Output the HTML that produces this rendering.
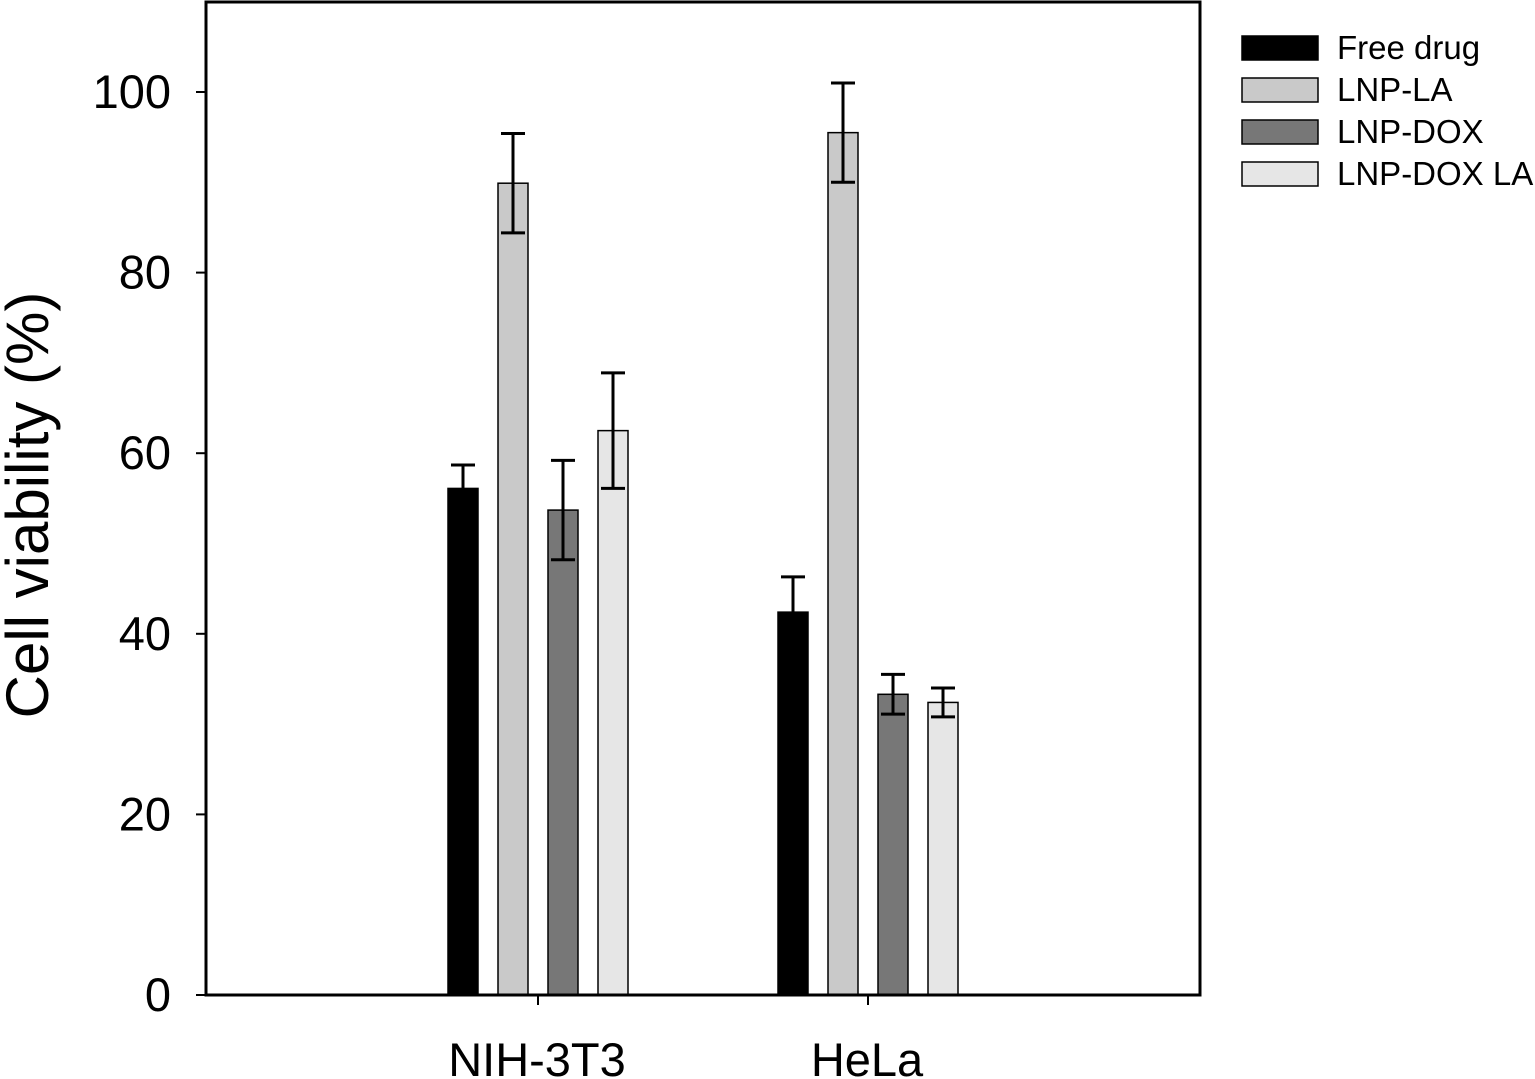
<!DOCTYPE html>
<html><head><meta charset="utf-8"><style>
html,body{margin:0;padding:0;background:#fff;}
svg{display:block;font-family:"Liberation Sans",Arial,sans-serif;}
</style></head><body>
<svg id="chart" width="1535" height="1079" viewBox="0 0 1535 1079">
<g id="plot"></g>
</svg>
<script>
const categories = ["NIH-3T3", "HeLa"];
const seriesNames = ["Free drug", "LNP-LA", "LNP-DOX", "LNP-DOX LA"];
const freeDrug = [56.1, 42.4];
const lnpLA = [89.9, 95.5];
const lnpDOX = [53.7, 33.3];
const lnpDOXLA = [62.5, 32.4];
const errFree = [2.6, 3.9];
const errLA = [5.5, 5.5];
const errDOX = [5.5, 2.2];
const errDOXLA = [6.4, 1.6];
const yTicks = [0, 20, 40, 60, 80, 100];

const series = [freeDrug, lnpLA, lnpDOX, lnpDOXLA];
const errs = [errFree, errLA, errDOX, errDOXLA];
const colors = ["#000000", "#c9c9c9", "#777777", "#e6e6e6"];
const upOnly = [true, false, false, false];

const L = 206, R = 1200, T = 2, B = 995;
const y0 = 995, yPer = 9.03;
function y(v){ return y0 - v * yPer; }
const catCenters = [538, 868];
function xCat(i){ return catCenters[0] + i * (catCenters[1] - catCenters[0]); }
const barW = 30, step = 50;
function xBar(ci, si){ return xCat(ci) + (si - 1.5) * step - barW / 2; }

const NS = "http://www.w3.org/2000/svg";
const g = document.getElementById('plot');
function mk(tag, attrs, parent){
  const e = document.createElementNS(NS, tag);
  for (const k in attrs) e.setAttribute(k, attrs[k]);
  (parent || g).appendChild(e);
  return e;
}

series.forEach((vals, si) => {
  vals.forEach((v, ci) => {
    const x = xBar(ci, si);
    const r = mk('rect', {x: x, y: y(v), width: barW, height: y(0) - y(v), fill: colors[si], stroke: '#000', 'stroke-width': 1.5});
    
    
    const e = errs[si][ci];
    const cx = x + barW / 2;
    const top = y(v + e), bot = upOnly[si] ? y(v) : y(v - e);
    const eg = mk('g', {stroke: '#000', 'stroke-width': 3});
    
    
    mk('line', {x1: cx, x2: cx, y1: top, y2: bot}, eg);
    mk('line', {x1: cx - 12, x2: cx + 12, y1: top, y2: top}, eg);
    if (!upOnly[si]) mk('line', {x1: cx - 12, x2: cx + 12, y1: bot, y2: bot}, eg);
  });
});

const fr = mk('rect', {x: L, y: T, width: R - L, height: B - T, fill: 'none', stroke: '#000', 'stroke-width': 3});



yTicks.forEach(t => {
  mk('line', {x1: L - 10, x2: L, y1: y(t), y2: y(t), stroke: '#000', 'stroke-width': 2});
  const tx = mk('text', {x: 171, y: y(t) + 16, 'text-anchor': 'end', 'font-size': 47, fill: '#000'});
  tx.textContent = t;
  
  
});

categories.forEach((c, ci) => {
  mk('line', {x1: xCat(ci), x2: xCat(ci), y1: B, y2: B + 10, stroke: '#000', 'stroke-width': 2});
  const tx = mk('text', {x: xCat(ci) - 1, y: 1076, 'text-anchor': 'middle', 'font-size': 47, fill: '#000'});
  tx.textContent = c;
  
  
});

const yt = mk('text', {x: 0, y: 0, transform: 'translate(48,505) rotate(-90)', 'text-anchor': 'middle', 'font-size': 60, fill: '#000'});
yt.textContent = 'Cell viability (%)';



seriesNames.forEach((n, si) => {
  const lg = mk('g', {});
  
  
  const yy = 36 + si * 42;
  mk('rect', {x: 1242, y: yy, width: 76, height: 24, fill: colors[si], stroke: '#000', 'stroke-width': 1.5}, lg);
  const tx = mk('text', {x: 1337, y: yy + 23, 'font-size': 33, fill: '#000'}, lg);
  tx.textContent = n;
});
</script>
</body></html>
